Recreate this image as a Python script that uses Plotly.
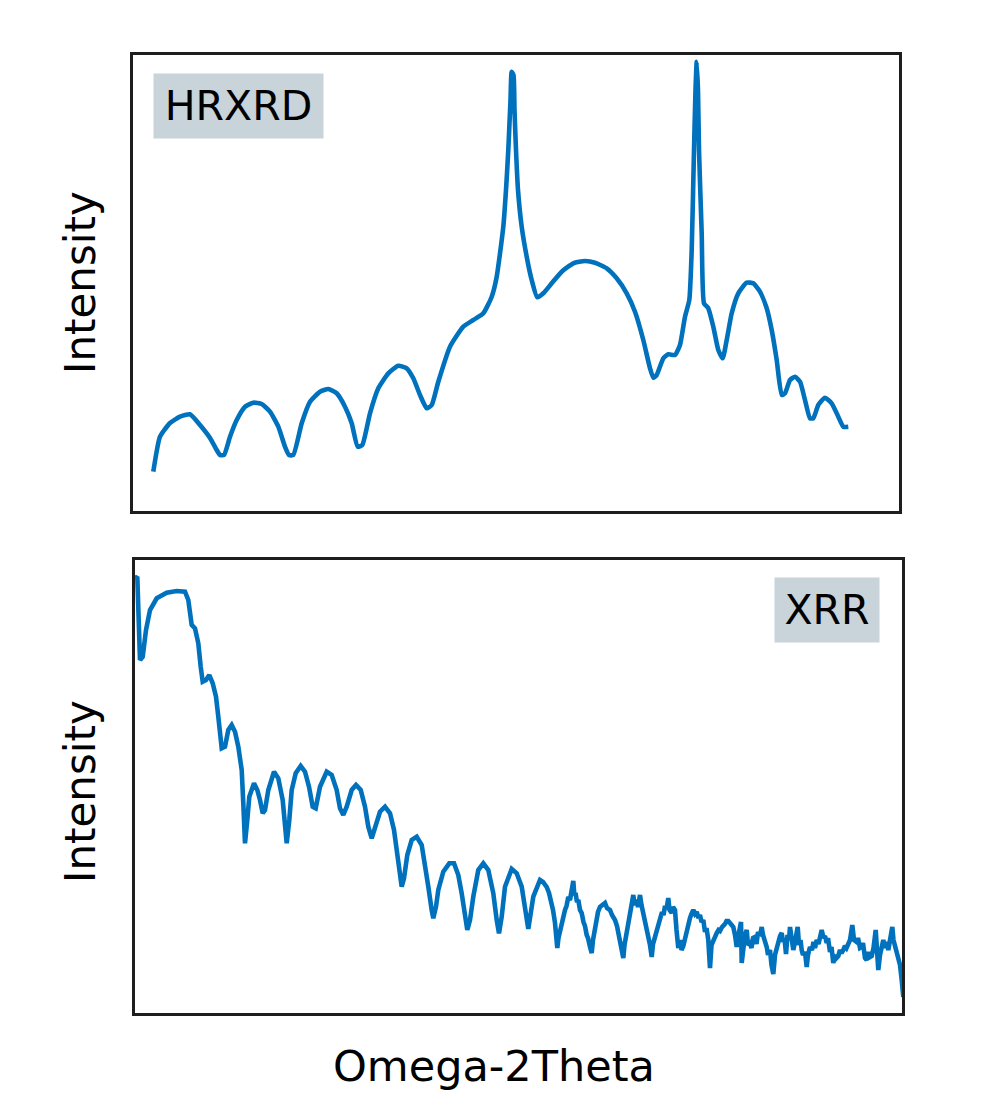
import plotly.graph_objects as go

# ---- HRXRD (top panel) : position along Omega-2Theta (arb.) and intensity (arb.) ----
hrxrd_x = [20.3, 27, 37, 47, 57, 67, 77, 83.7, 87, 91, 97, 103.7, 112, 120.3, 128.7, 137, 145.3, 152, 156, 160.3,
           168.7, 177, 187, 195.3, 203.7, 212, 218.7, 224.7, 229.3, 237, 245.3, 255.3, 265.3, 273.7, 280.3, 287, 293.7,
           298.7, 305.3, 317, 330.3, 340.3, 350.3, 358.7, 363.7, 370.3, 373, 375.3, 377.5, 378.7, 380.5, 381.5, 383, 385,
           388.7, 393.7, 398.7, 404.3, 410.3, 418.7, 428.7, 440.3, 452, 462, 473.7, 483.7, 493.7, 502, 510.3, 517, 520.3,
           523.7, 530.3, 535.3, 542, 547, 552, 556.3, 558.7, 561, 562.5, 563.7, 565, 566, 568.7, 571, 575.3, 580.3, 585.3,
           589.7, 593.7, 598.7, 605.3, 613.7, 620.3, 627, 633.7, 638.7, 643.7, 648.7, 652, 657, 662, 667, 672, 677, 680.3,
           685.3, 692, 698.7, 705.3, 710.3, 715.3]
hrxrd_y = [39.3, 74.3, 88, 94.3, 96.7, 86, 73, 61, 56, 56, 74.3, 91, 104.3, 108.3, 107, 99.3, 84.3, 64.3, 56, 56,
           87.7, 109.3, 119.3, 122, 117.7, 104.3, 87.7, 64.3, 66, 97.7, 122.7, 137.7, 145.3, 142.7, 132.7, 116, 102.7,
           106, 129.3, 164.3, 184.3, 191, 197.7, 214.3, 234.3, 284.3, 321, 361, 411, 439.3, 436, 401, 361, 321,
           284.3, 254.3, 231, 213.7, 217.7, 227.7, 239.3, 247.7, 250, 248.3, 242.7, 232.7, 217.7, 199.3, 171, 142.7, 133.3,
           136, 152.7, 156.7, 156, 166, 194.3, 211, 261, 361, 421, 449.3, 421, 361, 277.7, 207.7, 202.7, 184.3, 161,
           152.7, 171, 197.7, 217.7, 228.3, 227.7, 219.3, 202.7, 181, 151, 116, 117.7, 131, 134.3, 129.3, 111, 92.7, 92.7,
           106, 113.3, 107.7, 94.3, 84.3, 84.3]

# ---- XRR (bottom panel) ----
xrr_x = [0, 2.3, 5, 7.7, 11, 15, 21.7, 31.7, 41.7, 50, 53.3, 56.7, 60, 63.3, 65.7, 67.7, 71, 74.3, 77.7, 81, 83.3,
         86.7, 90, 93.3, 96.7, 100, 103.3, 106.7, 108.3, 110, 112.3, 114.3, 119, 122.3, 125, 127.7, 130, 133.3, 139,
         143.3, 147.7, 150, 151.7, 154.3, 156.7, 160.7, 165.7, 170, 174, 177.7, 180.7, 185, 191.7, 196.7, 201.7, 205,
         208.3, 211.7, 216.7, 221, 225.7, 230, 233.3, 236.7, 241, 245, 250, 255, 259, 261.7, 264.3, 266.7, 269, 272.3,
         276.7, 281.7, 286.7, 290, 293.3, 296.7, 298.3, 301, 303.3, 308.3, 314.3, 319, 323.3, 326.7, 330, 332.3, 335,
         338.3, 343.3, 348.3, 353.3, 358.3, 361.7, 364, 366.7, 370, 376.7, 381.7, 386.7, 390, 393.3, 398.3,
         405, 408, 411.7, 414, 416.7, 418, 420, 421, 422.3, 423.5, 425.7, 427, 428.5, 430, 431.5, 433.3, 435, 436.7,
         438.3, 439.3, 440.5, 442, 443.3, 445, 446.7, 448.5, 450, 451.7, 453, 455, 456.7, 458, 460, 461.5, 463, 465,
         467, 470, 472, 475, 477, 480, 482, 483.5, 485, 486.5, 488.3, 489.5, 491.7, 493, 495, 496.5, 498.3, 499.5,
         501.7, 503, 505, 506.5, 508.3, 510, 511.5, 513.3, 515, 516.7, 518, 520, 522, 523.5, 525, 527, 528.5, 530,
         531.5, 533.3, 534.5, 536.7, 538, 540, 541.5, 543.3, 545, 546.5, 548.3, 550, 551.5, 553.3, 555, 556.5, 558.3,
         560, 561.7, 563.5, 565, 566.5, 568.3, 570, 571.5, 573.3, 575, 576.5, 578.3, 580, 581.7, 583.5, 585, 587,
         588.3, 590, 591.5, 593.3, 595, 596.5, 598.3, 600, 601.7, 603, 604.5, 606, 606.7, 608.5, 610, 611.7, 613, 615,
         616.5, 618, 620, 621.5, 623, 625, 626.7, 628, 630, 631.7, 633, 635, 636.5, 638.3, 640, 641.5, 643.3, 645,
         646.7, 648, 649.5, 651, 652.5, 654, 655, 656.5, 658.3, 660, 661.5, 662.7, 664, 665.5, 666.7, 668, 670, 671.7,
         673, 675, 677, 678.5, 680, 681.7, 683.5, 685, 686.7, 688.5, 690, 691.7, 693, 695, 696.5, 698.3, 700, 701.5,
         703.3, 705, 706.5, 708.3, 710, 711.5, 713.3, 715, 717.3, 719, 721.7, 723, 725, 726.7, 728, 730, 731.7, 733.5,
         735, 736.7, 738.5, 740.7, 742, 743.3, 745, 746.5, 748.3, 750, 751.5, 753.3, 755, 757.3, 758.5, 760, 761.5,
         763.3, 765, 766.7, 767.5, 768.3]
xrr_y = [434.7, 436.3, 353, 356.3, 383, 403, 414.7, 420.3, 422, 421.3, 413, 388, 384.7, 369.7, 346.3, 331.3, 333, 338,
         329.7, 316.3, 296.3, 264.7, 266.3, 283, 288, 281.3, 266.3, 243, 209.7, 169.7, 193, 216.3, 229.7, 223, 213, 199.7,
         203, 223, 241.3, 234.7, 213, 186.3, 169.7, 193, 223, 239.7, 247, 241.3, 226.3, 206.3, 204.7, 226.3, 241.3, 238,
         223, 204.7, 198, 206.3, 223, 228, 223, 206.3, 186.3, 174.7, 189.7, 201.3, 206.3, 199.7, 183, 163, 138, 126.3,
         134.7, 158, 173, 176.3, 168, 149.7, 126.3, 103, 94.7, 106.3, 123, 141.3, 149.7, 149.7, 138, 119.7, 96.3, 83, 93,
         116.3, 143, 149.7, 143, 119.7, 93, 79.7, 96.3, 126.3, 144, 139.7, 126.3, 103, 84, 116.3,
         133, 131, 126, 120, 110, 103, 90, 78, 65, 75, 86, 91, 97, 103, 107, 116, 113, 123,
         132, 118, 120, 111, 113, 103, 100, 91, 87, 78, 75, 66, 60, 73, 86, 95, 101, 106,
         108, 110, 105, 103, 98, 93, 87, 79, 76, 68, 55, 68, 80, 85, 96, 103, 118, 108,
         113, 106, 118, 108, 100, 93, 86, 80, 68, 56, 69, 76, 83, 91, 93, 101, 98, 107,
         104, 115, 103, 100, 106, 103, 83, 65, 73, 63, 67, 75, 83, 86, 95, 99, 103,
         99, 101, 95, 98, 91, 93, 81, 85, 73, 45, 68, 73, 77, 80, 83, 82, 86,
         87, 89, 92, 92, 90, 88, 86, 78, 66, 75, 83, 91, 50, 68, 78, 83, 68, 70,
         65, 75, 76, 69, 81, 77, 86, 78, 73, 66, 58, 63, 48, 39, 58, 65, 70, 77,
         80, 71, 75, 59, 78, 73, 86, 73, 63, 71, 77, 86, 68, 73, 63, 58, 61, 46,
         58, 66, 63, 71, 65, 73, 69, 78, 83, 75, 77, 70, 75, 61, 66, 50, 58, 55,
         57, 63, 60, 63, 67, 65, 71, 73, 88, 73, 71, 75, 65, 66, 70, 55, 53, 61,
         56, 57, 65, 83, 63, 43, 58, 68, 73, 65, 71, 63, 73, 86, 73, 66, 63,
         56, 48, 33, 23, 16]

LINE = "#0071bc"
FRAME = "#1e1e1e"
BOX = "#c8d3da"
FONT = "DejaVu Sans"
OFF = 8  # page offset compensation (px)

fig = go.Figure()
fig.add_trace(go.Scatter(x=hrxrd_x, y=hrxrd_y, mode="lines",
                         line=dict(color=LINE, width=4.6, shape="spline", smoothing=0.5),
                         xaxis="x", yaxis="y", showlegend=False, hoverinfo="skip"))
fig.add_trace(go.Scatter(x=xrr_x, y=xrr_y, mode="lines", line=dict(color=LINE, width=4.6),
                         xaxis="x2", yaxis="y2", showlegend=False, hoverinfo="skip"))

W, H = 1000, 1100
def px(v):
    return (v - OFF) / W
def py(v):
    return 1 - (v - OFF) / H

ax_common = dict(showline=True, mirror=True, linecolor=FRAME, linewidth=2.8, showgrid=False,
                 zeroline=False, showticklabels=False, ticks="")
fig.update_layout(
    width=W, height=H,
    margin=dict(l=0, r=0, t=0, b=0),
    paper_bgcolor="white", plot_bgcolor="white",
    xaxis=dict(domain=[px(133), px(899)], range=[0, 766], anchor="y", **ax_common),
    yaxis=dict(domain=[py(511), py(55)], range=[0, 456], anchor="x", **ax_common),
    xaxis2=dict(domain=[px(135), px(902)], range=[0, 767], anchor="y2", **ax_common),
    yaxis2=dict(domain=[py(1013), py(560)], range=[0, 453], anchor="x2", **ax_common),
    font=dict(family=FONT, color="black"),
)

def add_label(text, x, y, angle=0, size=41):
    fig.add_annotation(text=text, x=px(x), y=py(y), xref="paper", yref="paper",
                       showarrow=False, textangle=angle, xanchor="center", yanchor="middle",
                       font=dict(family=FONT, size=size, color="black"))

def add_box(text, x, y, w, h):
    fig.add_annotation(text=text, x=px(x), y=py(y), xref="paper", yref="paper",
                       showarrow=False, xanchor="center", yanchor="middle", bgcolor=BOX,
                       width=w, height=h, borderpad=0, align="center", valign="middle",
                       font=dict(family=FONT, size=41, color="black"))

add_box("HRXRD", 238.8, 106.3, 169, 64)
add_box("XRR", 827, 610, 104, 64)
add_label("Intensity", 80, 283, -90, 42)
add_label("Intensity", 80, 792, -90, 42)
add_label("Omega-2Theta", 494, 1066, 0, 43)

fig.write_html("out.html")
